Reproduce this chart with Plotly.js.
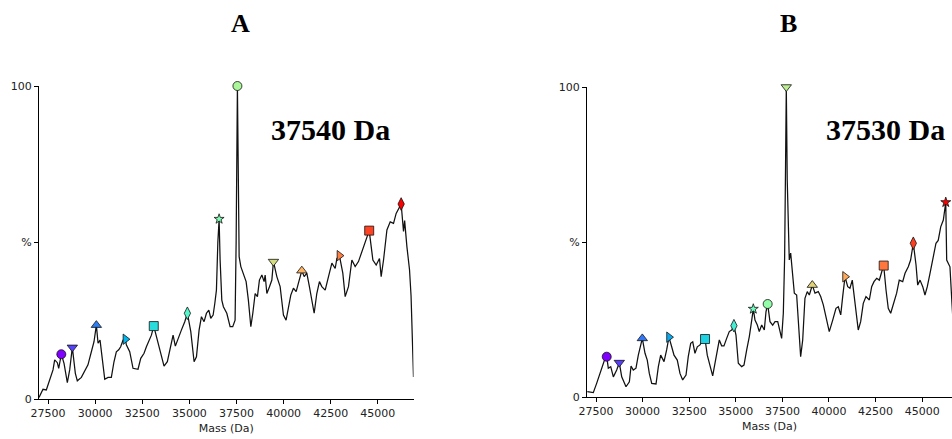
<!DOCTYPE html>
<html>
<head>
<meta charset="utf-8">
<script src="https://cdn.plot.ly/plotly-3.0.1.min.js"></script>
<style>html,body{margin:0;padding:0;background:#fff;}#chart{width:952px;height:439px;}</style>
</head>
<body>
<div id="chart"></div>
<script>
// ---- Panel A spectrum (Mass in Da, relative intensity %) ----
const massA = [27022,27100,27235,27410,27590,27765,27854,27995,28067,28206,28350,28525,28650,28790,28950,29055,29270,29445,29620,29800,29940,30065,30155,30260,30365,30510,30685,30860,31000,31125,31250,31355,31480,31605,31655,31835,32010,32190,32275,32420,32595,32720,32845,32985,33110,33300,33480,33655,33830,34010,34135,34255,34400,34575,34755,34895,35075,35250,35375,35515,35640,35780,35905,36030,36135,36260,36350,36435,36510,36577,36630,36720,36805,36985,37160,37300,37425,37480,37548,37605,37640,37730,37865,38010,38130,38260,38365,38490,38610,38715,38845,38965,39020,39110,39245,39375,39460,39640,39815,39990,40130,40255,40380,40520,40665,40785,40965,41090,41230,41370,41495,41620,41760,41900,42025,42205,42380,42560,42735,42825,42960,43140,43265,43440,43620,43795,43970,44150,44325,44540,44735,44910,45085,45175,45300,45480,45655,45830,45970,46095,46235,46360,46420,46540,46680,46760,46840,46890];
const intA = [0.5,1.5,3.1,2.9,6.1,9.3,12.5,11.6,9.8,14.3,11.4,5.2,9.3,16.5,8.2,5.8,6.9,8.7,10.9,15.1,18.3,23.6,17.8,18.8,13.5,6.3,6.9,6.9,11.9,15.1,15.7,16.7,18.8,19.1,17.3,15.1,9.8,9.5,9.5,13,14.6,16.7,18.3,20.4,23.3,18.8,15.1,10.5,11.9,17.3,20.4,16.9,19.4,22,24.7,27.4,21.5,11.9,13.5,22,26.3,24.7,27.4,28.4,25.8,26.8,30.6,34.8,50,57.5,44.4,31.6,29.5,27.4,23.1,23.1,25.2,50,100,55,45.5,42.3,40.2,37.5,31.6,23.1,27.4,33.7,32.7,38,39.6,37.5,39.6,33.7,35.8,38,43.9,39.1,35.9,26.8,25.2,29.5,33.2,35.4,34.3,37,41,39.1,40.2,35.8,31.1,27.4,33.7,37.5,35.9,34.8,39.1,43.4,41.7,44.9,45.8,40.2,32.7,35.9,44.4,42.3,43.9,47.1,49.7,53.8,44.4,42.8,44.9,39.1,44.4,54,56.6,56.1,59.3,60.9,62.3,53.5,57,48.7,41.2,33,20,7];
const peakMassA = [28206,28790,30065,31605,33110,34895,36577,37548,39460,40965,42960,44540,46235];
const peakIntA  = [14.3,16.5,23.6,19.1,23.3,27.4,57.5,100,43.9,41,45.8,53.8,62.3];

// ---- Panel B spectrum ----
const massB = [27033,27200,27355,27535,27715,27860,27960,28075,28160,28290,28430,28610,28750,28880,29110,29290,29380,29500,29645,29770,29900,29985,30130,30250,30360,30490,30720,30845,30970,31150,31290,31415,31560,31685,31860,32005,32150,32330,32450,32580,32690,32810,32935,33080,33225,33350,33470,33615,33760,33885,34005,34115,34240,34365,34510,34650,34780,34900,35010,35135,35315,35440,35585,35725,35855,35940,36030,36155,36260,36390,36530,36620,36710,36835,36980,37105,37250,37370,37460,37550,37620,37670,37710,37760,37820,37870,37945,38030,38140,38265,38355,38480,38590,38710,38835,38945,39105,39250,39425,39555,39695,39840,40015,40200,40375,40500,40630,40735,40860,41005,41125,41250,41340,41450,41570,41700,41840,41985,42165,42290,42415,42560,42700,42830,42935,43060,43180,43310,43450,43630,43770,43955,44080,44255,44380,44525,44670,44760,44885,45030,45150,45275,45420,45565,45740,45860,45995,46135,46265,46315,46490,46600,46700];
const intB = [1.7,1.5,1.4,4.4,7.6,10.9,12,13,9.3,9.8,6.5,8.7,11.1,6.5,3.3,4.9,10,8.7,9.3,13.5,17.3,18.9,14.1,11.9,7.6,4.4,4.2,9.8,13.5,11.4,15.2,19.3,16.2,13.5,11.9,7.6,5.5,7.1,13,17.3,17.8,14.1,16.2,16.8,18.4,18.7,13.5,9.8,6.8,10.9,14.6,18.4,16.5,16.5,18.9,21.1,21.6,23,20,10.9,9.8,10.3,15.2,19.5,24.8,28.4,24.8,23.2,21.1,23.2,21.6,27.5,30,24.3,23.2,24.3,24.3,21.6,18.9,27,45,75,100,70,50,44.2,46.4,39.9,33.5,32.9,23.8,13,18.4,31.8,34,32.9,36.1,33.5,34,32.4,29.7,25.4,21.1,24.8,28.6,29.1,26.5,32.4,38.8,35.6,35.1,37.7,32.9,27.5,21.6,24.3,30.2,32.4,31.3,35.6,37.2,38.3,37.7,40.4,42.4,34.5,28.6,27,30.2,33.5,37.7,37.2,39.9,42,44.2,49.6,42.6,36.1,37.7,35.6,32.9,35.6,39.9,44.2,49.6,50.5,54.9,57.1,62.8,44.2,42,30,20];
const peakMassB = [28075,28750,29985,31415,33350,34900,35940,36710,37710,39105,40860,42935,44525,46265];
const peakIntB  = [13.0,11.1,18.9,19.3,18.7,23.0,28.4,30.0,100,36.1,38.8,42.4,49.6,62.8];

const xTicks = [27500,30000,32500,35000,37500,40000,42500,45000];
const yTicks = [0,50,100];
const yTickText = ['0','%','100'];
const titles = ['A','B'];
const massLabels = ['37540 Da','37530 Da'];

// ---- styling helpers ----
const shapeCycle = ['circle','triangle-down','triangle-up','triangle-right','square','diamond-tall','star'];
const shapeSize  = {'circle':9,'triangle-down':9,'triangle-up':9,'triangle-right':9,'square':9,'diamond-tall':9,'star':7.5};
function rainbow(n){
  const out=[];
  for(let i=0;i<n;i++){
    const x = n>1 ? i/(n-1) : 0;
    const r = Math.min(1,Math.abs(2*x-0.5)), g = Math.sin(Math.PI*x), b = Math.cos(Math.PI*x/2);
    out.push('rgb('+Math.round(r*255)+','+Math.round(g*255)+','+Math.round(Math.max(0,b)*255)+')');
  }
  return out;
}
function symbols(n){ const s=[]; for(let i=0;i<n;i++) s.push(shapeCycle[i%shapeCycle.length]); return s; }

const tickFont = {family:'DejaVu Sans', size:11, color:'#222'};
const lineStyle = {color:'#111', width:1.25};

function markerTrace(xs, ys, xa, ya){
  const sy = symbols(xs.length);
  return {x:xs, y:ys, xaxis:xa, yaxis:ya, mode:'markers', type:'scatter', cliponaxis:false,
    marker:{symbol:sy, color:rainbow(xs.length), size:sy.map(s=>shapeSize[s]), opacity:1,
            line:{color:'#111', width:0.8}}};
}

const data = [
  {x:massA, y:intA, xaxis:'x', yaxis:'y', mode:'lines', type:'scatter', line:lineStyle},
  markerTrace(peakMassA, peakIntA, 'x', 'y'),
  {x:massB, y:intB, xaxis:'x2', yaxis:'y2', mode:'lines', type:'scatter', line:lineStyle},
  markerTrace(peakMassB, peakIntB, 'x2', 'y2')
];

function xAxis(domain, range, anchor){
  return {domain:domain, range:range, anchor:anchor, showline:true, linecolor:'#000', linewidth:1,
    ticks:'outside', ticklen:4, tickwidth:1, tickcolor:'#000', tickvals:xTicks, tickformat:'d',
    tickfont:tickFont, showgrid:false, zeroline:false,
    title:{text:'Mass (Da)', font:tickFont, standoff:5}};
}
function yAxis(domain, anchor){
  return {domain:domain, range:[0,100], anchor:anchor, showline:true, linecolor:'#000', linewidth:1,
    ticks:'outside', ticklen:4, tickwidth:1, tickcolor:'#000', tickvals:yTicks, ticktext:yTickText,
    tickfont:tickFont, showgrid:false, zeroline:false};
}

const W=952, H=439;
const serif = {family:'Liberation Serif, Times New Roman, serif', color:'#000', weight:'bold'};
function ann(text, px, py, size){
  return {text:text, x:px/W, y:1-py/H, xref:'paper', yref:'paper', xanchor:'center', yanchor:'middle',
    showarrow:false, font:Object.assign({size:size}, serif)};
}

const layout = {
  width:W, height:H, margin:{l:0,r:0,t:0,b:0}, paper_bgcolor:'#fff', plot_bgcolor:'#fff', showlegend:false,
  xaxis: xAxis([39/W, 413.5/W], [27022, 46890], 'y'),
  yaxis: yAxis([40/H, 353/H], 'x'),
  xaxis2: xAxis([587/W, 1], [27017, 46600], 'y2'),
  yaxis2: yAxis([42/H, 352/H], 'x2'),
  annotations:[
    ann(titles[0], 240, 24, 26),
    ann(titles[1], 788, 24, 26),
    ann(massLabels[0], 330, 129, 30),
    ann(massLabels[1], 885.5, 129, 30)
  ]
};

Plotly.newPlot('chart', data, layout, {staticPlot:true, displayModeBar:false});
</script>
</body>
</html>
